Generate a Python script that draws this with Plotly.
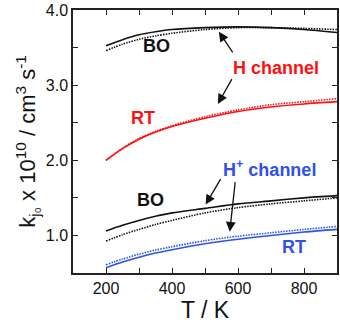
import plotly.graph_objects as go

# temperatures (K)
T = [200, 250, 300, 350, 400, 500, 600, 700, 800, 900]

# H channel
h_bo_solid = [3.525, 3.605, 3.67, 3.71, 3.74, 3.765, 3.775, 3.765, 3.74, 3.70]
h_bo_dot = [3.46, 3.545, 3.61, 3.655, 3.69, 3.74, 3.765, 3.765, 3.755, 3.74]
h_rt_solid = [2.00, 2.155, 2.28, 2.375, 2.45, 2.56, 2.65, 2.71, 2.75, 2.78]
h_rt_dot = [2.00, 2.16, 2.29, 2.385, 2.46, 2.58, 2.67, 2.74, 2.78, 2.82]

# H+ channel
hp_bo_solid = [1.06, 1.135, 1.20, 1.255, 1.30, 1.36, 1.42, 1.46, 1.50, 1.53]
hp_bo_dot = [0.925, 1.01, 1.08, 1.145, 1.20, 1.30, 1.37, 1.42, 1.46, 1.50]
hp_rt_solid = [0.57, 0.645, 0.71, 0.765, 0.81, 0.89, 0.95, 1.00, 1.045, 1.08]
hp_rt_dot = [0.61, 0.685, 0.75, 0.805, 0.85, 0.93, 0.99, 1.035, 1.08, 1.12]

RED = "#ff1010"
BLUE = "#2f50ee"
BLACK = "#111111"
FONT = "Liberation Sans, Arial, sans-serif"

fig = go.Figure()

series = [
    (h_bo_solid, BLACK, "solid"), (h_bo_dot, BLACK, "1.5px,1.2px"),
    (h_rt_solid, RED, "solid"), (h_rt_dot, RED, "1.5px,1.2px"),
    (hp_bo_solid, BLACK, "solid"), (hp_bo_dot, BLACK, "1.5px,1.2px"),
    (hp_rt_solid, BLUE, "solid"), (hp_rt_dot, BLUE, "1.5px,1.2px"),
]
for ys, col, dash in series:
    fig.add_trace(go.Scatter(x=T, y=ys, mode="lines", showlegend=False, hoverinfo="skip",
                             line=dict(color=col, width=1.6, dash=dash, shape="spline",
                                       smoothing=0.8)))

# labels
labels = [
    ("BO", 353, 3.52, BLACK), ("H channel", 716, 3.23, RED), ("RT", 311, 2.56, RED),
    ("BO", 335, 1.47, BLACK), ("H<sup>+</sup> channel", 695, 1.89, BLUE), ("RT", 770, 0.85, BLUE),
]
for txt, x, y, col in labels:
    fig.add_annotation(x=x, y=y, text="<b>" + txt + "</b>", showarrow=False,
                       font=dict(family=FONT, size=18, color=col))

# arrows (tail -> head)
arrows = [((587, 3.415), (542, 3.71)), ((584, 3.10), (539, 2.75)),
          ((550, 1.77), (502, 1.41)), ((592, 1.73), (575, 1.05))]
for (tx, ty), (hx, hy) in arrows:
    fig.add_annotation(x=hx, y=hy, ax=tx, ay=ty, xref="x", yref="y", axref="x", ayref="y",
                       text="", showarrow=True, arrowhead=2, arrowsize=1.5, arrowwidth=1.3,
                       arrowcolor=BLACK)

axis_common = dict(showline=True, linecolor="#222222", linewidth=1.5, mirror="ticks",
                   ticks="inside", ticklen=5, tickwidth=1.3, tickcolor="#222222",
                   showgrid=False, zeroline=False, automargin=False,
                   tickfont=dict(family=FONT, size=16, color="#111111"))

fig.update_xaxes(range=[100, 900], tickvals=[200, 400, 600, 800],
                 minor=dict(tickvals=[300, 500, 700], ticks="inside", ticklen=5,
                            tickwidth=1.3, tickcolor="#222222"),
                 title=dict(text="T / K", font=dict(family=FONT, size=23, color="#111111"),
                            standoff=6),
                 **axis_common)
fig.update_yaxes(range=[0.5, 4.0], tickvals=[1, 2, 3, 4], tickformat=".1f",
                 minor=dict(tickvals=[1.5, 2.5, 3.5], ticks="inside", ticklen=5,
                            tickwidth=1.3, tickcolor="#222222"),
                 title=dict(text="k<sub>j₀</sub> x 10<sup>10</sup> / cm<sup>3</sup> s<sup>-1</sup>",
                            font=dict(family=FONT, size=22, color="#111111"), standoff=4),
                 **axis_common)

fig.update_layout(width=340, height=325, margin=dict(l=73, r=3, t=10, b=52),
                  plot_bgcolor="white", paper_bgcolor="white",
                  font=dict(family=FONT))

# page has a default body margin; drop it so the figure sits at the corner
fig.write_html("out.html", config={"displayModeBar": False},
               post_script="document.body.style.margin='0';document.body.style.overflow='hidden';")
